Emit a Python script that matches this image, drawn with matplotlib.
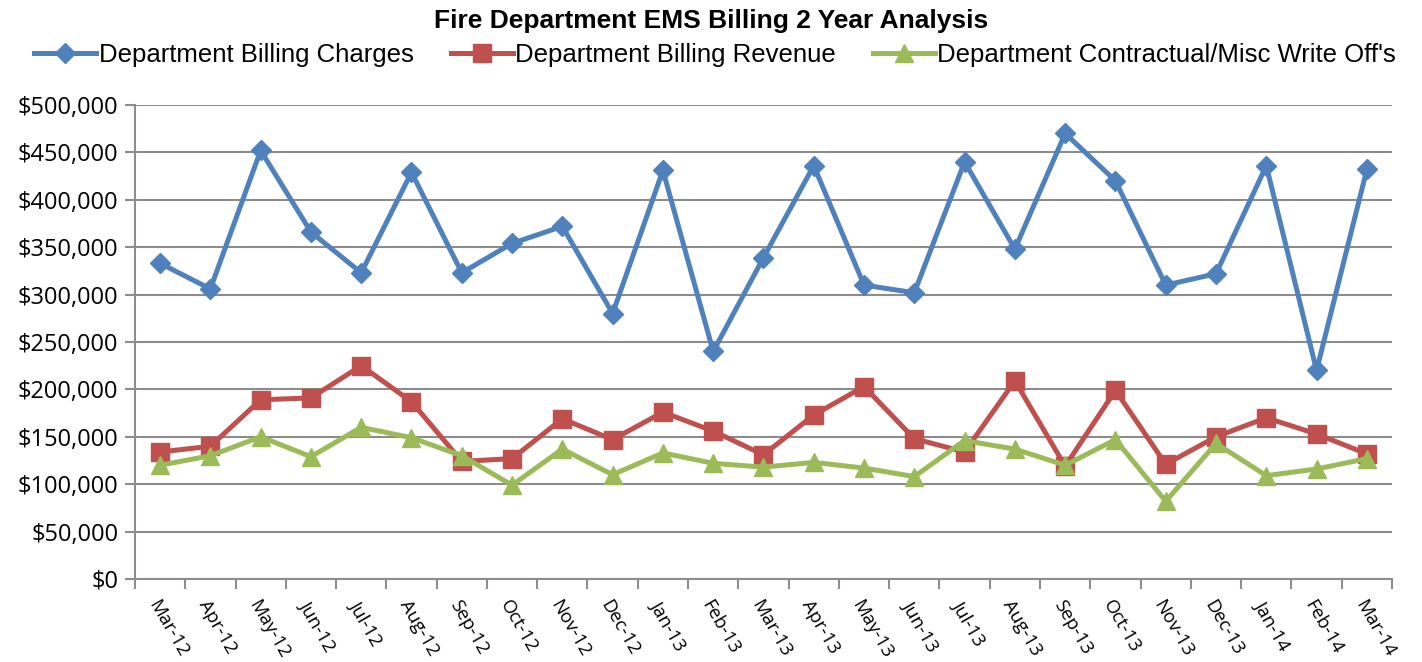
import matplotlib
matplotlib.use("Agg")
import matplotlib.pyplot as plt
from matplotlib.ticker import FuncFormatter, FixedLocator
import numpy as np

months = ["Mar-12", "Apr-12", "May-12", "Jun-12", "Jul-12", "Aug-12", "Sep-12",
          "Oct-12", "Nov-12", "Dec-12", "Jan-13", "Feb-13", "Mar-13", "Apr-13",
          "May-13", "Jun-13", "Jul-13", "Aug-13", "Sep-13", "Oct-13", "Nov-13",
          "Dec-13", "Jan-14", "Feb-14", "Mar-14"]

charges = [333000, 306000, 452000, 366000, 323000, 429000, 323000, 354000,
           372000, 280000, 431000, 240000, 339000, 436000, 310000, 302000,
           440000, 348000, 470000, 420000, 310000, 322000, 436000, 220000, 432000]

revenue = [134000, 140000, 189000, 191000, 225000, 187000, 124000, 127000,
           169000, 147000, 176000, 156000, 131000, 173000, 203000, 148000,
           134000, 209000, 119000, 199000, 121000, 150000, 170000, 153000, 132000]

writeoffs = [120000, 130000, 150000, 129000, 160000, 149000, 130000, 99000,
             137000, 110000, 133000, 122000, 118000, 123000, 117000, 108000,
             146000, 137000, 120000, 147000, 82000, 143000, 109000, 116000, 127000]

series_names = ["Department Billing Charges", "Department Billing Revenue",
                "Department Contractual/Misc Write Off's"]

title = "Fire Department EMS Billing 2 Year Analysis"

fig = plt.figure(figsize=(14.22, 6.62), dpi=100)
ax = fig.add_axes([0.0949, 0.1254, 0.8840, 0.7160])

x = np.arange(len(months))
ax.plot(x, charges, color="#4F81BD", lw=3.6, marker="D", ms=10.5,
        mec="#4F81BD", mfc="#4F81BD", label=series_names[0], zorder=3)
ax.plot(x, revenue, color="#C0504D", lw=3.6, marker="s", ms=12.5,
        mec="#C0504D", mfc="#C0504D", label=series_names[1], zorder=3)
ax.plot(x, writeoffs, color="#9BBB59", lw=3.6, marker="^", ms=13,
        mec="#9BBB59", mfc="#9BBB59", label=series_names[2], zorder=3)

ax.set_xlim(-0.5, len(months) - 0.5)
ax.set_ylim(0, 500000)
ax.set_yticks(np.arange(0, 500001, 50000))
ax.yaxis.set_major_formatter(FuncFormatter(lambda v, p: "${:,.0f}".format(v)))
ax.grid(axis="y", color="#8C8C8C", lw=1.5, zorder=0)
ax.set_axisbelow(True)

ax.xaxis.set_major_locator(FixedLocator(np.arange(-0.5, len(months), 1.0)))
ax.xaxis.set_minor_locator(FixedLocator(x))
ax.set_xticklabels([])
ax.set_xticklabels(months, minor=True, rotation=-60, ha="left",
                   rotation_mode="anchor", fontsize=13.5, family="Open Sans")
ax.tick_params(axis="x", which="major", length=7, width=1.5, color="#8C8C8C")
ax.tick_params(axis="x", which="minor", length=0, pad=13)
ax.tick_params(axis="y", length=7, width=1.5, color="#8C8C8C", labelsize=17, pad=5)
for lbl in ax.get_yticklabels():
    lbl.set_family("Open Sans")

for side in ["top", "right"]:
    ax.spines[side].set_visible(False)
for side in ["left", "bottom"]:
    ax.spines[side].set_color("#8C8C8C")
    ax.spines[side].set_linewidth(1.5)

fig.text(0.500, 0.968, title, ha="center", va="center", fontsize=19,
         fontweight="bold", family="Liberation Sans")

leg = fig.legend(loc="center", bbox_to_anchor=(0.503, 0.917), ncol=3,
                 frameon=False, prop={"family": "Liberation Sans", "size": 18.5},
                 handlelength=2.4, handletextpad=0.1, columnspacing=1.45,
                 borderaxespad=0)

fig.savefig("out.png", dpi=100)
